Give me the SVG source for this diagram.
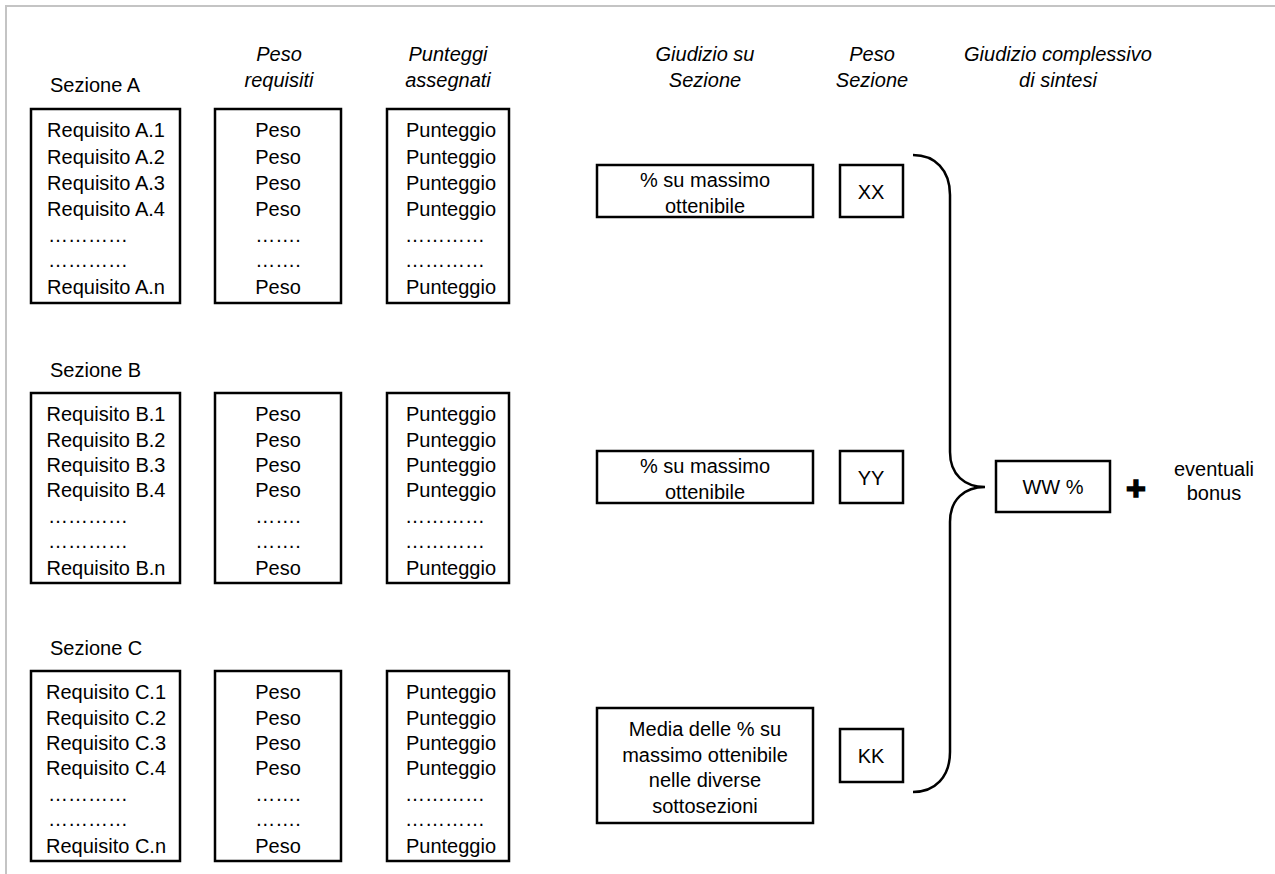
<svg xmlns="http://www.w3.org/2000/svg" width="1275" height="874" viewBox="0 0 1275 874">
<style>
text{font-family:"Liberation Sans",Arial,sans-serif;font-size:20px;fill:#000}
.h{font-style:italic}
.c{text-anchor:middle}
.b{fill:#fff;stroke:#000;stroke-width:2.5}
.frame{stroke:#c4c4c4;stroke-width:2;fill:none}
.br{fill:none;stroke:#000;stroke-width:2.5}
.plus{font-size:34px;font-weight:bold;stroke:#000;stroke-width:1.5}
</style>
<rect width="1275" height="874" fill="#fff"/>
<path class="frame" d="M6,874 V6 H1275"/>
<g id="headers">
<text class="h c" x="279" y="61">Peso</text>
<text class="h c" x="279" y="87">requisiti</text>
<text class="h c" x="448" y="61">Punteggi</text>
<text class="h c" x="448" y="87">assegnati</text>
<text class="h c" x="705" y="61">Giudizio su</text>
<text class="h c" x="705" y="87">Sezione</text>
<text class="h c" x="872" y="61">Peso</text>
<text class="h c" x="872" y="87">Sezione</text>
<text class="h c" x="1058" y="61">Giudizio complessivo</text>
<text class="h c" x="1058" y="87">di sintesi</text>
</g>
<g id="sezioneA">
<text x="50" y="92">Sezione A</text>
<rect class="b" x="31" y="109" width="149" height="194"/>
<text class="c" x="106" y="137">Requisito A.1</text>
<text class="c" x="106" y="164">Requisito A.2</text>
<text class="c" x="106" y="190">Requisito A.3</text>
<text class="c" x="106" y="216">Requisito A.4</text>
<text x="48" y="242">…………</text>
<text x="48" y="267">…………</text>
<text class="c" x="106" y="294">Requisito A.n</text>
</g>
<g id="pesoA">
<rect class="b" x="215" y="109" width="126" height="194"/>
<text class="c" x="278" y="137">Peso</text>
<text class="c" x="278" y="164">Peso</text>
<text class="c" x="278" y="190">Peso</text>
<text class="c" x="278" y="216">Peso</text>
<text class="c" x="278" y="242">…….</text>
<text class="c" x="278" y="267">…….</text>
<text class="c" x="278" y="294">Peso</text>
</g>
<g id="punteggiA">
<rect class="b" x="387" y="109" width="122" height="194"/>
<text class="c" x="451" y="137">Punteggio</text>
<text class="c" x="451" y="164">Punteggio</text>
<text class="c" x="451" y="190">Punteggio</text>
<text class="c" x="451" y="216">Punteggio</text>
<text x="405" y="242">…………</text>
<text x="405" y="267">…………</text>
<text class="c" x="451" y="294">Punteggio</text>
</g>
<g id="sezioneB">
<text x="50" y="377">Sezione B</text>
<rect class="b" x="31" y="393" width="149" height="190"/>
<text class="c" x="106" y="421">Requisito B.1</text>
<text class="c" x="106" y="447">Requisito B.2</text>
<text class="c" x="106" y="472">Requisito B.3</text>
<text class="c" x="106" y="497">Requisito B.4</text>
<text x="48" y="523">…………</text>
<text x="48" y="548">…………</text>
<text class="c" x="106" y="575">Requisito B.n</text>
</g>
<g id="pesoB">
<rect class="b" x="215" y="393" width="126" height="190"/>
<text class="c" x="278" y="421">Peso</text>
<text class="c" x="278" y="447">Peso</text>
<text class="c" x="278" y="472">Peso</text>
<text class="c" x="278" y="497">Peso</text>
<text class="c" x="278" y="523">…….</text>
<text class="c" x="278" y="548">…….</text>
<text class="c" x="278" y="575">Peso</text>
</g>
<g id="punteggiB">
<rect class="b" x="387" y="393" width="122" height="190"/>
<text class="c" x="451" y="421">Punteggio</text>
<text class="c" x="451" y="447">Punteggio</text>
<text class="c" x="451" y="472">Punteggio</text>
<text class="c" x="451" y="497">Punteggio</text>
<text x="405" y="523">…………</text>
<text x="405" y="548">…………</text>
<text class="c" x="451" y="575">Punteggio</text>
</g>
<g id="sezioneC">
<text x="50" y="655">Sezione C</text>
<rect class="b" x="31" y="671" width="149" height="190"/>
<text class="c" x="106" y="699">Requisito C.1</text>
<text class="c" x="106" y="725">Requisito C.2</text>
<text class="c" x="106" y="750">Requisito C.3</text>
<text class="c" x="106" y="775">Requisito C.4</text>
<text x="48" y="801">…………</text>
<text x="48" y="826">…………</text>
<text class="c" x="106" y="853">Requisito C.n</text>
</g>
<g id="pesoC">
<rect class="b" x="215" y="671" width="126" height="190"/>
<text class="c" x="278" y="699">Peso</text>
<text class="c" x="278" y="725">Peso</text>
<text class="c" x="278" y="750">Peso</text>
<text class="c" x="278" y="775">Peso</text>
<text class="c" x="278" y="801">…….</text>
<text class="c" x="278" y="826">…….</text>
<text class="c" x="278" y="853">Peso</text>
</g>
<g id="punteggiC">
<rect class="b" x="387" y="671" width="122" height="190"/>
<text class="c" x="451" y="699">Punteggio</text>
<text class="c" x="451" y="725">Punteggio</text>
<text class="c" x="451" y="750">Punteggio</text>
<text class="c" x="451" y="775">Punteggio</text>
<text x="405" y="801">…………</text>
<text x="405" y="826">…………</text>
<text class="c" x="451" y="853">Punteggio</text>
</g>
<g id="giudizioA">
<rect class="b" x="597" y="165" width="216" height="52"/>
<text class="c" x="705" y="187">% su massimo</text>
<text class="c" x="705" y="213">ottenibile</text>
</g>
<g id="pesoSezA">
<rect class="b" x="840" y="165" width="63" height="52"/>
<text class="c" x="871" y="199">XX</text>
</g>
<g id="giudizioB">
<rect class="b" x="597" y="451" width="216" height="52"/>
<text class="c" x="705" y="473">% su massimo</text>
<text class="c" x="705" y="499">ottenibile</text>
</g>
<g id="pesoSezB">
<rect class="b" x="840" y="451" width="63" height="52"/>
<text class="c" x="871" y="485">YY</text>
</g>
<g id="giudizioC">
<rect class="b" x="597" y="708" width="216" height="115"/>
<text class="c" x="705" y="736">Media delle % su</text>
<text class="c" x="705" y="762">massimo ottenibile</text>
<text class="c" x="705" y="787">nelle diverse</text>
<text class="c" x="705" y="813">sottosezioni</text>
</g>
<g id="pesoSezC">
<rect class="b" x="840" y="729" width="63" height="53"/>
<text class="c" x="871" y="763">KK</text>
</g>
<g id="connectors">
<path class="br" d="M913,155 C935,155 950,170 950,195 L950,452 C950,475 965,487 985,487 C965,487 950,499 950,522 L950,752 C950,777 935,792 913,792"/>
</g>
<g id="sintesi">
<rect class="b" x="996" y="461" width="114" height="51"/>
<text class="c" x="1053" y="494">WW %</text>
</g>
<g id="bonus">
<text class="c plus" x="1136" y="500">+</text>
<text class="c" x="1214" y="476">eventuali</text>
<text class="c" x="1214" y="500">bonus</text>
</g>
</svg>
